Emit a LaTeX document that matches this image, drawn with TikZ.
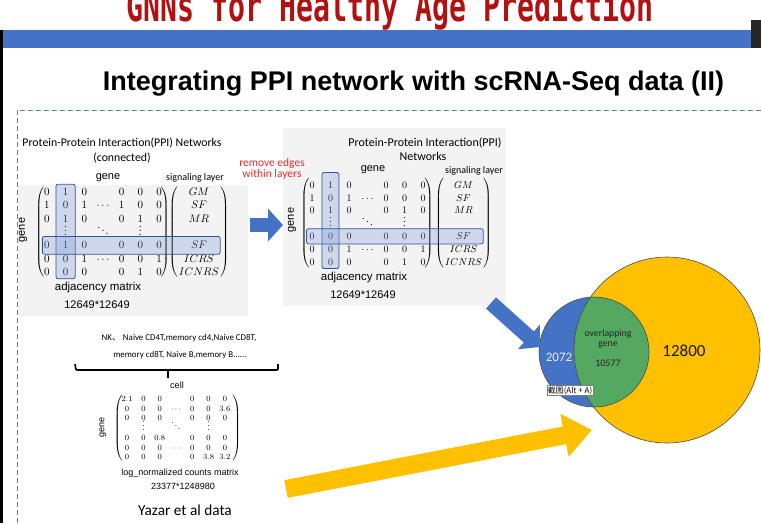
\documentclass[tikz,border=0pt]{standalone}
\usepackage[no-math]{fontspec}
\setmainfont{Liberation Sans}
\newfontfamily\calib{Carlito}
\newfontfamily\cjk{Noto Sans CJK SC}
\newfontfamily\monofont{DejaVu Sans Mono}
\usepackage{amsmath}
\usepackage{tikz}
\usetikzlibrary{arrows.meta,calc,positioning,matrix}

\newcommand{\fsz}[1]{\fontsize{#1}{#1}\selectfont}

\definecolor{barblue}{RGB}{68,114,196}
\definecolor{hiedge}{RGB}{47,85,151}
\definecolor{titlered}{RGB}{176,18,18}
\definecolor{dashblue}{RGB}{84,130,170}
\definecolor{vennyellow}{RGB}{255,192,0}
\definecolor{venngreen}{RGB}{84,168,96}
\definecolor{panelgray}{RGB}{243,243,243}
\definecolor{remred}{RGB}{217,48,44}

\begin{document}
\begin{tikzpicture}[x=1pt,y=-1pt,>=latex]
	\tikzstyle{txt} = [inner sep=0pt, outer sep=0pt]
	\tikzstyle{cal} = [txt, font=\calib\fsz{10}]
	\tikzstyle{ari} = [txt, font=\fsz{11}]
	\tikzstyle{adjmat} = [matrix of math nodes, nodes in empty cells, inner sep=0pt, column sep=0pt, row sep=0pt, left delimiter=(, right delimiter=)]
	\tikzstyle{hilite} = [draw=hiedge, fill=barblue!70, fill opacity=0.3, draw opacity=1, rounded corners=2pt, line width=0.8pt]
	\tikzstyle{bigarrow} = [line width=14pt, -{Triangle[width=32pt,length=15pt]}]
	\tikzstyle{vennline} = [draw=black!70, line width=0.6pt]

	\useasboundingbox (0,0) rectangle (761,523);
	\begin{scope}
	\clip (0,0) rectangle (761,523);

	% slide header
	\begin{scope}[shift={(390,21)}, yscale=1.5]
		\node[txt, transform shape, font=\monofont\bfseries\fsz{28.2}, text=titlered, anchor=base] (deckTitle) at (0,0) {GNNs for Healthy Age Prediction};
	\end{scope}
	\fill[barblue] (3,30) rectangle (751,48);
	\fill[black!85] (751,20) rectangle (761,48);
	\fill[black] (0,30) rectangle (3,523);
	\node[txt, font=\bfseries\fsz{27}, anchor=base] (slideTitle) at (413.5,90) {Integrating PPI network with scRNA-Seq data (II)};
	\draw[dashblue, line width=0.8pt, dash pattern=on 5pt off 3pt] (761,110) -- (17,110) -- (17,523);

	% panels
	\fill[panelgray] (18,185) rectangle (248,316);
	\fill[panelgray] (283,128) rectangle (506,306);

	% connected network
	\node[cal, font=\calib\fsz{11.8}] (ppiL) at (122,143) {Protein-Protein Interaction(PPI) Networks};
	\node[cal, font=\calib\fsz{11.8}] (connL) at (122,158) {(connected)};
	\node[ari] (geneTopL) at (108,178) {gene};
	\node[cal] (sigTopL) at (195,178) {signaling layer};
	\node[ari, rotate=90] (geneSideL) at (23,230) {gene};
	\begin{scope}[every left delimiter/.style={xshift=8pt}, every right delimiter/.style={xshift=-9pt}]
	\matrix (adjL) [adjmat, nodes={minimum width=18.7pt, minimum height=13.3pt, text height=7pt, text depth=0pt, inner sep=0pt, font=\fsz{10.5}}] at (103,232) {
		0 & 1 & 0 &  & 0 & 0 & 0 \\
		1 & 0 & 1 & \cdots & 1 & 0 & 0 \\
		0 & 1 & 0 &  & 0 & 1 & 0 \\
		 & \vdots &  & \ddots &  & \vdots &  \\
		0 & 1 & 0 &  & 0 & 0 & 0 \\
		0 & 0 & 1 & \cdots & 0 & 0 & 1 \\
		0 & 0 & 0 &  & 0 & 1 & 0 \\
	};
	\end{scope}
	\matrix (sigL) [adjmat, nodes={minimum width=40pt, minimum height=13.3pt, text height=7pt, text depth=0pt, inner sep=0pt, font=\fsz{10.5}}] at (199,232) {
		GM \\ SF \\ MR \\ \\ SF \\ ICRS \\ ICNRS \\
	};
	\draw[hilite] ($(adjL-1-2.north west)+(0,-1)$) rectangle (adjL-7-2.south east);
	\draw[hilite] ($(adjL-5-1.north west)+(5,-2)$) rectangle ($(sigL-5-1.south east)+(1,2)$);
	\node[ari, font=\fsz{11.5}] (adjTxtL) at (98,288) {adjacency matrix};
	\node[ari] (sizeL) at (97,305) {12649*12649};

	% remove edges
	\node[cal, font=\calib\fsz{11.5}, text=remred, align=center] (removeTxt) at (272,169) {remove edges\\within layers};
	\coordinate (arrA) at (250,225);
	\coordinate (arrB) at (283,225);
	\draw[bigarrow, barblue] (arrA) -- (arrB);

	% layered network
	\node[cal, font=\calib\fsz{12}] (ppiR) at (425,143) {Protein-Protein Interaction(PPI)};
	\node[cal, font=\calib\fsz{12}] (netR) at (423,156) {Networks};
	\node[ari] (geneTopR) at (373,170) {gene};
	\node[cal] (sigTopR) at (474,171) {signaling layer};
	\node[ari, rotate=90] (geneSideR) at (292,220) {gene};
	\begin{scope}[every left delimiter/.style={xshift=8pt}, every right delimiter/.style={xshift=-9pt}]
	\matrix (adjR) [adjmat, nodes={minimum width=18.5pt, minimum height=12.8pt, text height=6.5pt, text depth=0pt, inner sep=0pt, font=\fsz{10}}] at (367.5,223.5) {
		0 & 1 & 0 &  & 0 & 0 & 0 \\
		1 & 0 & 1 & \cdots & 0 & 0 & 0 \\
		0 & 1 & 0 &  & 0 & 1 & 0 \\
		 & \vdots &  & \ddots &  & \vdots &  \\
		0 & 0 & 0 &  & 0 & 0 & 0 \\
		0 & 0 & 1 & \cdots & 0 & 0 & 1 \\
		0 & 0 & 0 &  & 0 & 1 & 0 \\
	};
	\end{scope}
	\matrix (sigR) [adjmat, nodes={minimum width=36pt, minimum height=12.8pt, text height=6.5pt, text depth=0pt, inner sep=0pt, font=\fsz{10}}] at (463.5,223.5) {
		GM \\ SF \\ MR \\ \\ SF \\ ICRS \\ ICNRS \\
	};
	\draw[hilite] ($(adjR-1-2.north west)+(1,-6)$) rectangle ($(adjR-7-2.south east)+(-1,0)$);
	\draw[hilite] ($(adjR-5-1.north west)+(4,-1)$) rectangle ($(sigR-5-1.south east)+(1.5,1)$);
	\node[ari, font=\fsz{11.5}] (adjTxtR) at (364,278) {adjacency matrix};
	\node[ari] (sizeR) at (363,295) {12649*12649};

	% single cell data
	\node[cal, font=\calib\fsz{8.9}] (cellsA) at (179,338) {NK{\cjk 、} Naive CD4T,memory cd4,Naive CD8T,};
	\node[cal, font=\calib\fsz{8.9}] (cellsB) at (180,355) {memory cd8T, Naive B,memory B......};
	\coordinate (braceL) at (75,364);
	\coordinate (braceR) at (278,364);
	\coordinate (braceM) at (168,370);
	\draw[line width=1.6pt, rounded corners=1pt] (braceL) -- ++(1,6) -| (braceR);
	\draw[line width=1.6pt] (braceM) -- ++(0,8);
	\node[ari, font=\fsz{9}] (cellTxt) at (177,385) {cell};
	\node[ari, font=\fsz{9}, rotate=90] (geneSideB) at (103,427) {gene};
	\begin{scope}[every left delimiter/.style={xshift=5pt}, every right delimiter/.style={xshift=-2pt}]
	\matrix (cnt) [adjmat, nodes={minimum width=16.3pt, minimum height=9.7pt, text height=5.3pt, text depth=0pt, inner sep=0pt, font=\fsz{8}}] at (176,428) {
		2.1 & 0 & 0 &  & 0 & 0 & 0 \\
		0 & 0 & 0 & \cdots & 0 & 0 & 3.6 \\
		0 & 0 & 0 &  & 0 & 0 & 0 \\
		 & \vdots &  & \ddots &  & \vdots &  \\
		0 & 0 & 0.8 &  & 0 & 0 & 0 \\
		0 & 0 & 0 & \cdots & 0 & 0 & 0 \\
		0 & 0 & 0 &  & 0 & 3.8 & 3.2 \\
	};
	\end{scope}
	\node[ari, font=\fsz{9}] (cntTxt) at (180,473) {log\_normalized counts matrix};
	\node[ari, font=\fsz{9}] (cntSize) at (183,486) {23377*1248980};
	\node[cal, font=\calib\fsz{15.3}] (yazar) at (185,510) {Yazar et al data};

	% overlap
	\coordinate (cYel) at (667,350);
	\coordinate (cBlue) at (594,352);
	\fill[vennyellow] (cYel) circle[radius=93];
	\fill[barblue] (cBlue) circle[radius=55];
	\begin{scope}
		\clip (cYel) circle[radius=93];
		\fill[venngreen] (cBlue) circle[radius=55];
	\end{scope}
	\draw[vennline] (cYel) circle[radius=93];
	\draw[vennline] (cBlue) circle[radius=55];
	\node[cal, font=\calib\fsz{13}, text=blue!8] (only2072) at (559,357) {2072};
	\node[cal, font=\calib\fsz{9.8}, text=black!85, align=center] (overTxt) at (608,339) {overlapping\\gene};
	\node[cal, font=\calib\fsz{10}, text=black!85] (both) at (608,363) {10577};
	\node[cal, font=\calib\fsz{17}, text=black!90] (only12800) at (684,351) {12800};
	\node[draw=black!50, fill=white, line width=0.4pt, inner sep=1pt, font=\cjk\fsz{8}] (tip) at (570,390.5) {截图(Alt + A)};

	\coordinate (diagA) at (491,303);
	\coordinate (diagB) at (540,347);
	\draw[bigarrow, barblue, line width=15pt] (diagA) -- (diagB);
	\coordinate (yelA) at (286,489);
	\coordinate (yelB) at (592,430);
	\draw[vennyellow, line width=18pt, -{Triangle[width=42pt,length=28pt]}] (yelA) -- (yelB);
	\end{scope}
\end{tikzpicture}
\end{document}
